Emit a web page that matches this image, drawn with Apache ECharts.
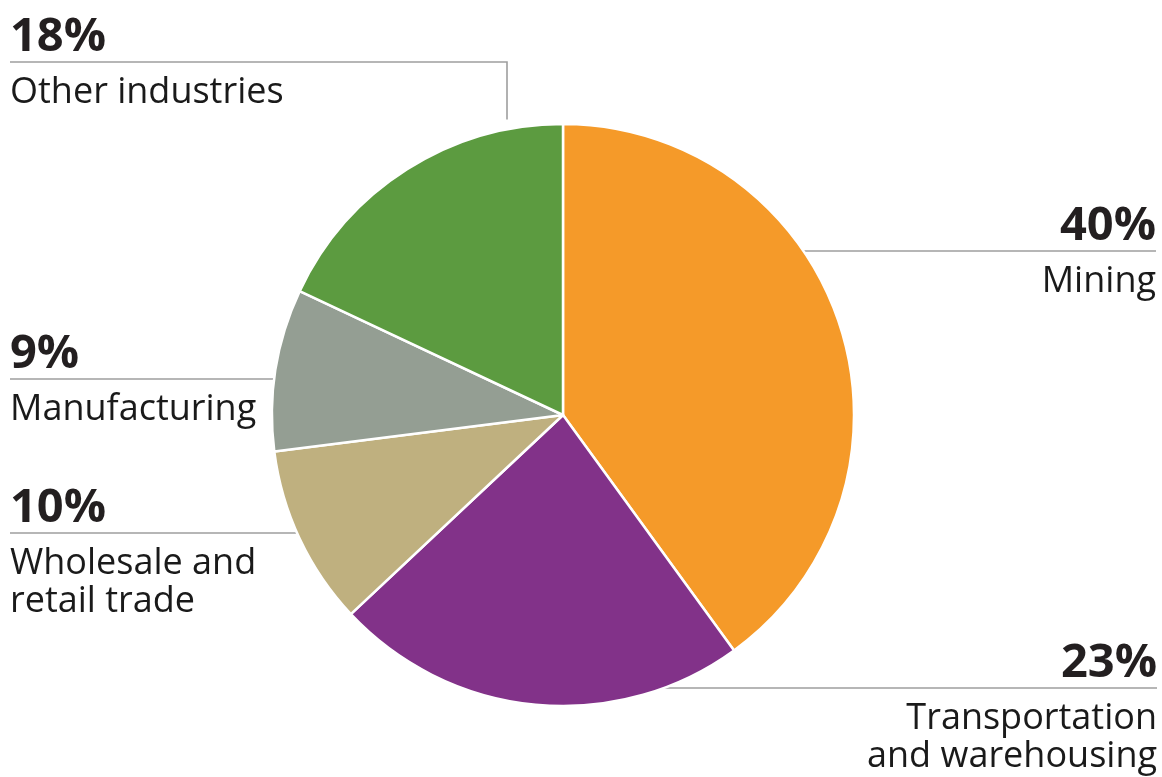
<!DOCTYPE html>
<html>
<head>
<meta charset="utf-8">
<script src="https://cdn.jsdelivr.net/npm/echarts@6/dist/echarts.min.js"></script>
<style>
html,body{margin:0;padding:0;background:#fff;}
#chart{width:1162px;height:777px;}
</style>
</head>
<body>
<div id="chart"></div>
<script>
// ---- data ----
const categories = ['Mining', 'Transportation\nand warehousing', 'Wholesale and\nretail trade', 'Manufacturing', 'Other industries'];
const shares = [40, 23, 10, 9, 18];
const colors = ['#F59A29', '#823289', '#BFB07F', '#949E93', '#5C9B40'];

// ---- layout (label placement) ----
const CX = 563, CY = 415, R = 291;
const labelPlacement = [
  { side: 'right', lineY: 251, edgeX: 1156 },
  { side: 'right', lineY: 688, edgeX: 1157 },
  { side: 'left',  lineY: 533, edgeX: 10 },
  { side: 'left',  lineY: 379, edgeX: 10 },
  { side: 'top',   lineY: 62,  edgeX: 10, dropX: 507, gap: 10 }
];

const chart = echarts.init(document.getElementById('chart'), null, { renderer: 'canvas' });

function circleX(y, sign) {
  const dy = y - CY;
  return CX + sign * Math.sqrt(Math.max(0, R * R - dy * dy));
}
function circleY(x) {
  const dx = x - CX;
  return CY - Math.sqrt(Math.max(0, R * R - dx * dx));
}

const option = {
  animation: false,
  backgroundColor: '#fff',
  series: [{
    type: 'pie',
    center: [CX, CY],
    radius: [0, R],
    startAngle: 90,
    clockwise: true,
    avoidLabelOverlap: false,
    silent: true,
    itemStyle: { borderColor: '#fff', borderWidth: 2.5 },
    label: {
      show: true,
      position: 'outside',
      fontFamily: 'Open Sans',
      formatter: p => '{p|' + p.value + '%}\n{n|' + p.name.split('\n').join('}\n{n|') + '}',
      rich: {
        p: { fontFamily: 'Open Sans', fontSize: 47, fontWeight: 'bold', color: '#231F20', lineHeight: 72 },
        n: { fontFamily: 'Open Sans', fontSize: 36, color: '#1A1A1A', lineHeight: 38 }
      }
    },
    labelLine: { show: true, lineStyle: { color: '#9E9E9E', width: 1.6 } },
    labelLayout: function (params) {
      const cfg = labelPlacement[params.dataIndex];
      const y = cfg.lineY;
      let pts, x, align;
      if (cfg.side === 'right') {
        const ex = circleX(y, 1);
        pts = [[ex, y], [ex, y], [cfg.edgeX, y]];
        x = cfg.edgeX; align = 'right';
      } else if (cfg.side === 'left') {
        const ex = circleX(y, -1);
        pts = [[ex, y], [ex, y], [cfg.edgeX, y]];
        x = cfg.edgeX; align = 'left';
      } else {
        const ey = circleY(cfg.dropX) - cfg.gap;
        pts = [[cfg.dropX, ey], [cfg.dropX, y], [cfg.edgeX, y]];
        x = cfg.edgeX; align = 'left';
      }
      return { x: x, y: y - 60, align: align, verticalAlign: 'top', labelLinePoints: pts };
    },
    data: categories.map((c, i) => ({ name: c, value: shares[i], itemStyle: { color: colors[i] } }))
  }]
};
chart.setOption(option);
</script>
</body>
</html>
